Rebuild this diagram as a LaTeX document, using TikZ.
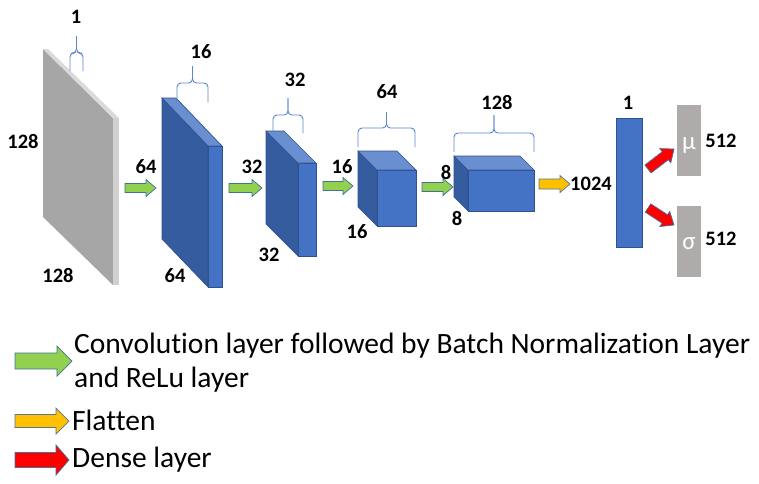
\documentclass[tikz,border=0pt]{standalone}
\usepackage{fontspec}
\setmainfont{Carlito}[Ligatures={NoCommon}]
\usetikzlibrary{calc}
\definecolor{bfront}{HTML}{4472C4}
\definecolor{bside}{HTML}{345C9E}
\definecolor{btop}{HTML}{6A8FD0}
\definecolor{bline}{HTML}{2F528F}
\definecolor{gface}{HTML}{A6A6A6}
\definecolor{gstrip}{HTML}{D0D0D0}
\definecolor{gtop}{HTML}{DADADA}
\definecolor{obox}{HTML}{AFABAB}
\definecolor{agreen}{HTML}{92D050}
\definecolor{ayellow}{HTML}{FFC000}
\definecolor{ared}{HTML}{FF0000}
\definecolor{aline}{HTML}{41719C}
\definecolor{brc}{HTML}{5A86CF}
\tikzset{
  cubeside/.style={fill=bside,draw=bline,line width=0.7},
  cubefront/.style={fill=bfront,draw=bline,line width=0.7},
  cubetop/.style={fill=btop,draw=bline,line width=0.7,line join=round},
  num/.style={font=\fontsize{20.5}{23}\selectfont\bfseries,inner sep=0pt},
  legtext/.style={font=\fontsize{29.5}{34}\selectfont,anchor=west,inner sep=0pt},
  garrow/.style={fill=agreen,draw=aline,line width=0.7},
  yarrow/.style={fill=ayellow,draw=aline!70!gray,line width=0.7},
  rarrow/.style={fill=ared,draw=aline,line width=0.7},
  brace/.style={draw=brc,line width=0.9,rounded corners=4pt},
  outbox/.style={fill=obox,draw=none,minimum width=24pt,minimum height=71pt,inner sep=0pt},
  greek/.style={text=white,font=\fontsize{25}{27}\selectfont,inner sep=0pt},
}
\newcommand\blockarrow[6]{%
  \coordinate (bh) at ($(#3)!#6!(#2)$);
  \filldraw[#1] ($(#2)!#4!90:(#3)$) -- ($(bh)!#4!90:(#3)$) -- ($(bh)!#5!90:(#3)$) -- (#3) -- ($(bh)!#5!-90:(#3)$) -- ($(bh)!#4!-90:(#3)$) -- ($(#2)!#4!-90:(#3)$) -- cycle;}
\newcommand\cuboid[6]{%
  \filldraw[cubeside] (#1-#5,#2-#6) -- (#1,#2) -- (#1,#4) -- (#1-#5,#4-#6) -- cycle;
  \filldraw[cubefront] (#1,#2) rectangle (#3,#4);
  \filldraw[cubetop] (#1-#5,#2-#6) -- (#3-#5,#2-#6) -- (#3,#2) -- (#1,#2) -- cycle;}
\newcommand\hbrace[5]{%
  \draw[brace] (#1,#3) -- (#1,#4) -- ({(#1+#2)/2},#4) -- ({(#1+#2)/2},#5);
  \draw[brace] (#2,#3) -- (#2,#4) -- ({(#1+#2)/2},#4) -- ({(#1+#2)/2},#5);}
\begin{document}
\begin{tikzpicture}[x=1pt,y=-1pt]
\useasboundingbox (0,0) rectangle (759,483);
\fill[white] (0,0) rectangle (759,483);
% input slab
\fill[gface] (43,49) -- (113,118) -- (113,285) -- (43,217) -- cycle;
\fill[gstrip] (113,118) -- (119,118) -- (119,285) -- (113,285) -- cycle;
\fill[gtop] (43,49) -- (48,49) -- (119,118) -- (113,118) -- cycle;
% conv blocks
\cuboid{208}{146}{222}{287}{46}{48}
\cuboid{298}{163}{316}{256}{32}{32}
\cuboid{377}{170}{416}{226}{19}{19}
\cuboid{468}{170}{534}{211}{14}{14}
% braces
\hbrace{70}{83}{71}{53}{36}
\hbrace{177}{208}{102}{83}{66}
\hbrace{273}{303}{133}{115}{98}
\hbrace{358}{415}{147}{128}{112}
\hbrace{454}{534}{152}{133}{115}
% dense + outputs
\node[fill=bfront,draw=bline,line width=0.7,minimum width=26pt,minimum height=129pt,inner sep=0pt] (fc) at (629,182.5) {};
\node[outbox] (mu) at (689,140.5) {};
\node[outbox] (sg) at (689,241.5) {};
\node[greek] (mut) at (689,146) {μ};
\node[greek] (sgt) at (689,244) {σ};
% arrows
\coordinate (g1s) at (125,188); \coordinate (g1e) at (156,188);
\coordinate (g2s) at (229,188); \coordinate (g2e) at (262,188);
\coordinate (g3s) at (323,186); \coordinate (g3e) at (353,186);
\coordinate (g4s) at (422,187); \coordinate (g4e) at (453,187);
\coordinate (ys) at (539,184); \coordinate (ye) at (570,184);
\coordinate (r1s) at (648,169); \coordinate (r1e) at (674,149);
\coordinate (r2s) at (648,208); \coordinate (r2e) at (674,225);
\blockarrow{garrow}{g1s}{g1e}{4.5pt}{8.5pt}{10pt}
\blockarrow{garrow}{g2s}{g2e}{4.5pt}{8.5pt}{10pt}
\blockarrow{garrow}{g3s}{g3e}{4.5pt}{8.5pt}{10pt}
\blockarrow{garrow}{g4s}{g4e}{4.5pt}{8.5pt}{10pt}
\blockarrow{yarrow}{ys}{ye}{5pt}{8.5pt}{10pt}
\blockarrow{rarrow}{r1s}{r1e}{5pt}{9pt}{11pt}
\blockarrow{rarrow}{r2s}{r2e}{5pt}{9pt}{11pt}
% number labels
\node[num] (l1) at (76,17) {1};
\node[num] (l2) at (23,141) {128};
\node[num] (l3) at (58,275) {128};
\node[num] (l4) at (146,167) {64};
\node[num] (l5) at (201,52) {16};
\node[num] (l6) at (175,276) {64};
\node[num] (l7) at (252,167) {32};
\node[num] (l8) at (295,80) {32};
\node[num] (l9) at (269,255) {32};
\node[num] (l10) at (342,167) {16};
\node[num] (l11) at (387,92) {64};
\node[num] (l12) at (357,232) {16};
\node[num] (l13) at (446,172) {8};
\node[num] (l14) at (497,102) {128};
\node[num] (l15) at (457,218) {8};
\node[num] (l16) at (591,184) {1024};
\node[num] (l17) at (628,103) {1};
\node[num] (l18) at (721,141) {512};
\node[num] (l19) at (721,239) {512};
% legend
\coordinate (lgs) at (15,361); \coordinate (lge) at (72,361);
\coordinate (lys) at (15,421); \coordinate (lye) at (69,421);
\coordinate (lrs) at (15,460); \coordinate (lre) at (69,460);
\blockarrow{garrow}{lgs}{lge}{8pt}{15pt}{15pt}
\blockarrow{yarrow}{lys}{lye}{6.5pt}{13pt}{13pt}
\blockarrow{rarrow}{lrs}{lre}{7.5pt}{15pt}{13pt}
\node[legtext] (t1) at (74,346) {Convolution layer followed by Batch Normalization Layer};
\node[legtext] (t2) at (74,380) {and ReLu layer};
\node[legtext] (t3) at (72,420) {Flatten};
\node[legtext] (t4) at (72,460) {Dense layer};
\end{tikzpicture}
\end{document}
